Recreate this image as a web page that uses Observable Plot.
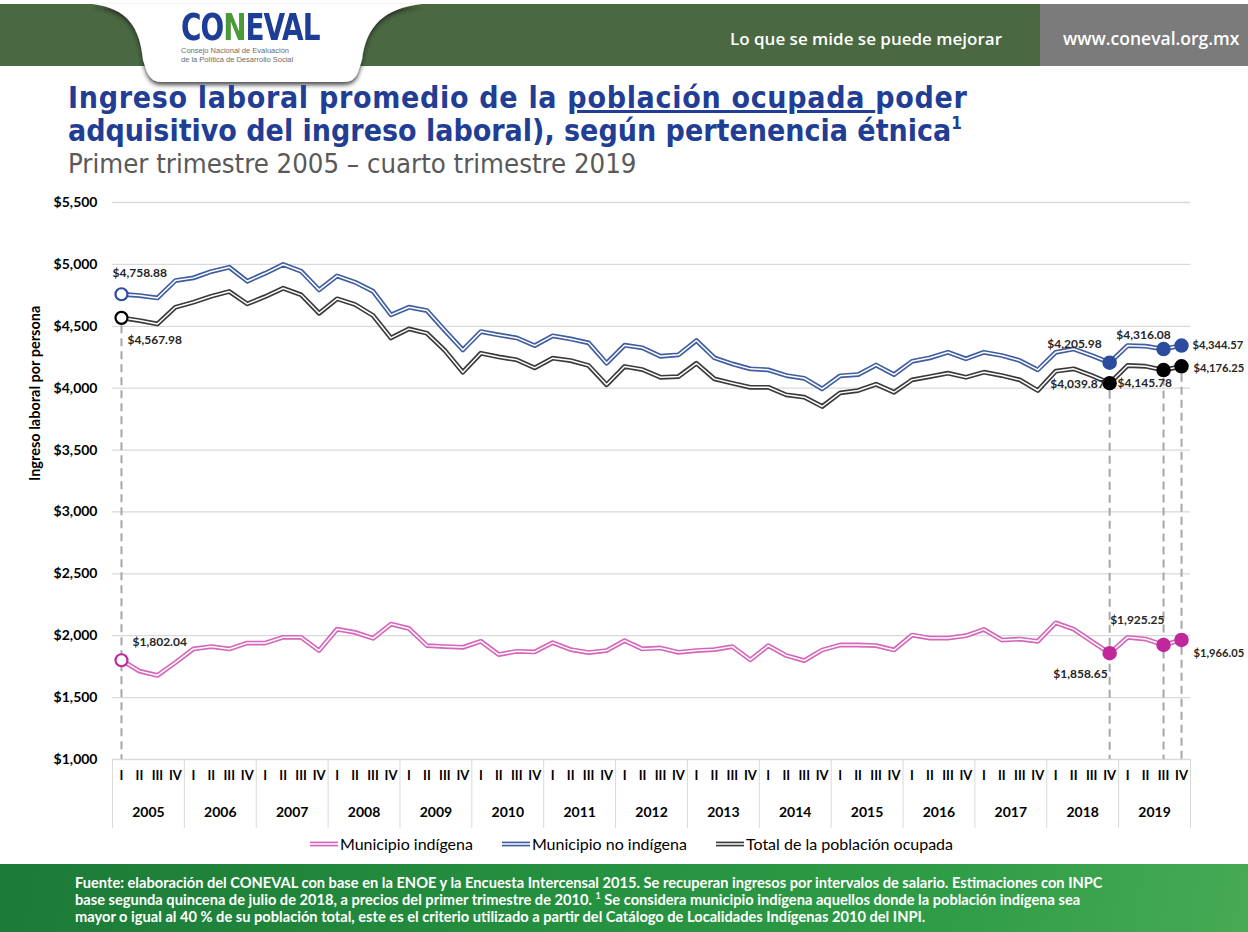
<!DOCTYPE html>
<html><head><meta charset="utf-8">
<script src="https://cdn.jsdelivr.net/npm/d3@7"></script>
<script src="https://cdn.jsdelivr.net/npm/@observablehq/plot@0.6"></script>
<style>
body{margin:0;background:#fff;}
#page{position:relative;width:1248px;height:932px;overflow:hidden;background:#fff;font-family:Lato,sans-serif;}
.hdr-green{position:absolute;left:0;top:4px;width:1040px;height:62px;background:#4a6841;}
.hdr-gray{position:absolute;left:1040px;top:4px;width:208px;height:62px;background:#7b7b7b;}
.tab{position:absolute;left:0;top:0;}
.logo{position:absolute;left:181px;top:6px;width:145px;}
.logo .word{font-family:"DejaVu Sans Condensed","DejaVu Sans",sans-serif;font-weight:bold;font-size:31px;color:#1e3d96;letter-spacing:-1px;transform:scaleY(1.2);transform-origin:top left;line-height:34px;}
.logo .word span{color:#4a9a3a;}
.logo .sub{font-family:"Liberation Sans",sans-serif;font-size:7.5px;color:#6d6d6d;line-height:9px;margin-top:6px;}
.motto{position:absolute;left:730px;top:27px;font-family:"Open Sans",sans-serif;font-size:17px;font-weight:600;color:#fff;white-space:nowrap;}
.url{position:absolute;left:1063px;top:26px;font-family:"Open Sans",sans-serif;font-size:17.5px;font-weight:600;color:#fff;white-space:nowrap;}
.tline{position:absolute;left:68px;height:30px;font-family:"DejaVu Sans Condensed","DejaVu Sans",sans-serif;font-weight:bold;font-size:30px;line-height:30px;color:#213d94;white-space:nowrap;}
.tline sup{font-size:17px;vertical-align:12px;line-height:0;}
.subtitle{position:absolute;left:68px;top:149px;height:30px;line-height:30px;font-family:"DejaVu Sans Condensed","DejaVu Sans",sans-serif;font-size:27.3px;color:#595959;white-space:nowrap;}
#chart{position:absolute;left:0;top:190px;}
.legend{position:absolute;left:0;top:834px;width:1263px;display:flex;justify-content:center;gap:29px;font-family:Lato,sans-serif;font-size:16px;color:#000;}
.legend .item{display:flex;align-items:center;gap:2px;}
.footer{position:absolute;left:0;top:864px;width:1248px;height:68px;background:linear-gradient(100deg,#1c7a38 0%,#25903f 45%,#2f9c47 75%,#47aa55 100%);}
.footer .txt{position:absolute;left:75px;top:10px;font-family:Lato,sans-serif;font-weight:bold;font-size:14.65px;line-height:17px;color:#fff;white-space:nowrap;}
</style></head><body>
<div id="page">
  <div class="hdr-green"></div><div class="hdr-gray"></div>
  <svg class="tab" width="460" height="95">
    <defs><filter id="sh" x="-10%" y="-10%" width="120%" height="140%"><feDropShadow dx="0" dy="3" stdDeviation="2" flood-color="#222" flood-opacity="0.8"/></filter></defs>
    <path d="M92,4 C128,8 140,28 143,60 L147,72 Q151,82 162,82 L343,82 Q355,82 358,72 L362,60 C366,26 384,8 422,4 Z" fill="#fff" filter="url(#sh)"/>
  </svg>
  <div class="logo">
    <div class="word">CO<span>N</span>EVAL</div>
    <div class="sub">Consejo Nacional de Evaluación<br>de la Política de Desarrollo Social</div>
  </div>
  <div class="motto">Lo que se mide se puede mejorar</div>
  <div class="url">www.coneval.org.mx</div>
  <div class="tline" style="top:83px;letter-spacing:0.7px">Ingreso laboral promedio de la <u>población ocupada </u>poder</div>
  <div class="tline" style="top:116px">adquisitivo del ingreso laboral), según pertenencia étnica<sup>1</sup></div>
  <div class="subtitle">Primer trimestre 2005 – cuarto trimestre 2019</div>
  <div id="chart"></div>
  <div class="legend" id="legend"></div>
  <div class="footer"><div class="txt">Fuente: elaboración del CONEVAL con base en la ENOE y la Encuesta Intercensal 2015. Se recuperan ingresos por intervalos de salario. Estimaciones con INPC<br>base segunda quincena de julio de 2018, a precios del primer trimestre de 2010. <sup style="font-size:9px;line-height:0">1</sup> Se considera municipio indígena aquellos donde la población indígena sea<br>mayor o igual al 40 % de su población total, este es el criterio utilizado a partir del Catálogo de Localidades Indígenas 2010 del INPI.</div></div>
</div>
<script>
// ---- data ----
const quarterNames = ["I", "II", "III", "IV"];
const years = [2005, 2006, 2007, 2008, 2009, 2010, 2011, 2012, 2013, 2014, 2015, 2016, 2017, 2018, 2019];
const yTicks = [1000, 1500, 2000, 2500, 3000, 3500, 4000, 4500, 5000, 5500];
const seriesNames = ["Municipio indígena", "Municipio no indígena", "Total de la población ocupada"];

const indigena = [
  1802.04, 1714, 1679, 1783, 1893, 1912, 1893, 1941, 1941, 1987, 1987, 1880,
  2053, 2027, 1979, 2094, 2059, 1920, 1912, 1906, 1955, 1848, 1874, 1869,
  1944, 1888, 1864, 1880, 1960, 1893, 1901, 1866, 1880, 1888, 1912, 1805,
  1920, 1840, 1799, 1885, 1925, 1925, 1920, 1885, 2005, 1981, 1981, 2000,
  2051, 1965, 1973, 1955, 2104, 2053, 1955, 1858.65, 1987, 1973, 1925.25, 1966.05
];
const noIndigena = [
  4758.88, 4748, 4729, 4869, 4891, 4942, 4977, 4864, 4928, 4999, 4945, 4794,
  4907, 4856, 4783, 4592, 4654, 4627, 4465, 4309, 4457, 4430, 4406, 4344,
  4423, 4398, 4366, 4201, 4347, 4326, 4258, 4269, 4385, 4245, 4196, 4156,
  4148, 4102, 4080, 3994, 4100, 4110, 4187, 4110, 4217, 4245, 4290, 4237,
  4290, 4264, 4223, 4148, 4290, 4317, 4264, 4205.98, 4344, 4339, 4316.08, 4344.57
];
const total = [
  4567.98, 4546, 4519, 4654, 4694, 4743, 4781, 4681, 4740, 4807, 4754, 4605,
  4722, 4676, 4587, 4406, 4479, 4444, 4304, 4129, 4282, 4252, 4229, 4164,
  4242, 4223, 4183, 4027, 4175, 4150, 4088, 4094, 4201, 4075, 4040, 4007,
  4007, 3946, 3927, 3852, 3962, 3981, 4032, 3967, 4067, 4094, 4121, 4088,
  4129, 4102, 4067, 3981, 4137, 4156, 4102, 4039.87, 4183, 4177, 4145.78, 4176.25
];
const firstPoint = [0];
const lastPoints = [55, 58, 59];

// ---- build ----
const rows = years.flatMap(y => quarterNames.map(q => ({year: y, q}))).map((d, i) => ({...d, i}));
const series = [
  {name: seriesNames[0], values: indigena, color: "#d566ba", dot: "#c0279b"},
  {name: seriesNames[1], values: noIndigena, color: "#3f5d9f", dot: "#2c4d9e"},
  {name: seriesNames[2], values: total, color: "#3a3a3a", dot: "#000000"}
];
const fmt = d3.format("$,.2f");
const yearBounds = years.map((y, k) => k * 4 - 0.5).concat([years.length * 4 - 0.5]);
const labelStyle = {fontSize: 12, fontWeight: "bold", fill: "#262626"};

function lbl(vals, idx, opts) {
  return Plot.text(idx, {x: d => d, y: d => vals[d], text: d => fmt(vals[d]), ...labelStyle, ...opts});
}

const marks = [
  Plot.ruleY(yTicks, {y: d => d, stroke: "#d9d9d9", strokeWidth: 1.3}),
  Plot.ruleX(yearBounds, {x: d => d, y1: () => 1000, y2: () => 1000, insetBottom: -69, stroke: "#d9d9d9", strokeWidth: 1}),
  Plot.ruleX(firstPoint.concat(lastPoints), {x: d => d, y1: d => total[d], y2: () => 1000, insetTop: 8, stroke: "#a6a6a6", strokeWidth: 2, strokeDasharray: "8,5"})
];
for (const s of series) {
  marks.push(Plot.line(rows, {x: "i", y: d => s.values[d.i], stroke: s.color, strokeWidth: 4.8, strokeLinejoin: "round"}));
  marks.push(Plot.line(rows, {x: "i", y: d => s.values[d.i], stroke: "#fff", strokeWidth: 1.5, strokeLinejoin: "round"}));
}
for (const s of series) {
  marks.push(Plot.dot(firstPoint, {x: d => d, y: d => s.values[d], r: 6, fill: "#fff", stroke: s.dot, strokeWidth: 2.2}));
  marks.push(Plot.dot(lastPoints, {x: d => d, y: d => s.values[d], r: 6.5, fill: s.dot, stroke: s.dot}));
}
// value labels
marks.push(
  lbl(noIndigena, [0], {textAnchor: "start", dx: -9, dy: -21}),
  lbl(total, [0], {textAnchor: "start", dx: 6, dy: 22}),
  lbl(indigena, [0], {textAnchor: "start", dx: 11, dy: -18}),
  lbl(noIndigena, [55], {textAnchor: "end", dx: -8, dy: -19}),
  lbl(total, [55], {textAnchor: "end", dx: -5, dy: 1}),
  lbl(indigena, [55], {textAnchor: "end", dx: -2, dy: 21}),
  lbl(noIndigena, [58], {textAnchor: "middle", dx: -20, dy: -14}),
  lbl(total, [58], {textAnchor: "start", dx: -46, dy: 13}),
  lbl(indigena, [58], {textAnchor: "end", dx: 1, dy: -25}),
  lbl(noIndigena, [59], {textAnchor: "start", dx: 11, dy: 0, fontSize: 11.2}),
  lbl(total, [59], {textAnchor: "start", dx: 12, dy: 2, fontSize: 11.2}),
  lbl(indigena, [59], {textAnchor: "start", dx: 12, dy: 13, fontSize: 11.2})
);
// axes
marks.push(
  Plot.text(yTicks, {y: d => d, text: d => d3.format("$,")(d), frameAnchor: "left", dx: -15, textAnchor: "end", fontSize: 14, fontWeight: "bold", fill: "#000"}),
  Plot.text(["Ingreso laboral por persona"], {frameAnchor: "left", dx: -77, rotate: -90, fontSize: 14.5, fontWeight: "bold", fill: "#000"}),
  Plot.text(rows, {x: "i", text: "q", frameAnchor: "bottom", dy: 20, fontSize: 13, fontWeight: "bold", fill: "#000"}),
  Plot.text(years, {x: (d, k) => k * 4 + 1.5, text: d => String(d), frameAnchor: "bottom", dy: 57, fontSize: 14, fontWeight: "bold", fill: "#000"})
);

const chart = Plot.plot({
  width: 1248, height: 650,
  marginLeft: 112, marginRight: 58, marginTop: 12, marginBottom: 81,
  style: {fontFamily: "Lato, sans-serif", background: "transparent", overflow: "visible"},
  x: {domain: [-0.5, 59.5], axis: null},
  y: {domain: [1000, 5500], axis: null},
  marks
});
document.getElementById("chart").appendChild(chart);

// legend
const leg = document.getElementById("legend");
for (const s of series) {
  const it = document.createElement("div");
  it.className = "item";
  it.innerHTML = `<svg width="28" height="8"><line x1="0" y1="4" x2="28" y2="4" stroke="${s.color}" stroke-width="4.8"/><line x1="0" y1="4" x2="28" y2="4" stroke="#fff" stroke-width="1.5"/></svg><span>${s.name}</span>`;
  leg.appendChild(it);
}
</script>
</body></html>
